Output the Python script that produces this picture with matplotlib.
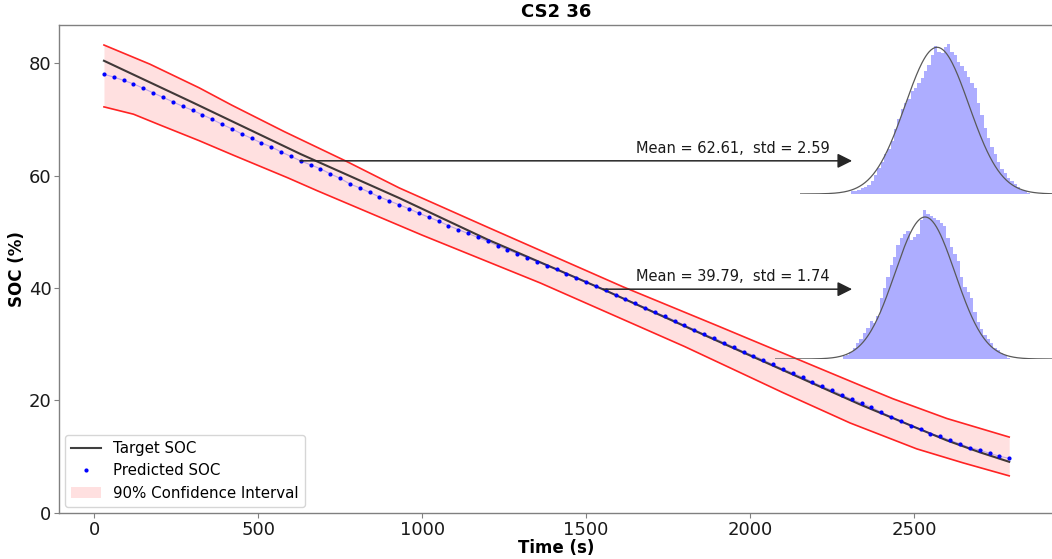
import numpy as np
import matplotlib
matplotlib.use('Agg')
import matplotlib.pyplot as plt

########### Data ##################################

# target / confidence band knots (time in s, SOC in %)
t_target = [30, 300, 630, 930, 1200, 1550, 1900, 2335, 2600, 2700, 2790]
soc_target = [80.4, 73.0, 63.8, 56.0, 48.6, 39.8, 30.6, 19.3, 12.9, 10.8, 9.1]

t_upper = [30, 170, 320, 420, 580, 770, 930, 1200, 1613, 1900, 2200, 2340, 2436, 2600, 2790]
soc_upper = [83.2, 79.8, 75.6, 72.5, 67.8, 62.5, 57.8, 50.8, 40.2, 33.3, 26.0, 22.6, 20.3, 16.8, 13.5]

t_lower = [30, 120, 200, 320, 425, 590, 680, 1000, 1360, 1800, 2100, 2305, 2508, 2650, 2790]
soc_lower = [72.2, 70.9, 69.0, 66.2, 63.6, 59.6, 57.3, 49.4, 40.9, 29.6, 21.4, 16.0, 11.4, 8.9, 6.6]

# predicted SOC, one point every 30 s from 30 s to 2790 s
t_pred = list(range(30, 2791, 30))
soc_pred = [78.0, 77.5, 76.9, 76.3, 75.5, 74.7, 73.9, 73.1, 72.3, 71.6,
            70.8, 70.0, 69.1, 68.3, 67.4, 66.6, 65.8, 65.1, 64.2, 63.4,
            62.6, 61.9, 61.2, 60.3, 59.5, 58.5, 57.8, 57.0, 56.2, 55.5,
            54.8, 54.1, 53.3, 52.6, 51.9, 51.1, 50.4, 49.7, 49.0, 48.3,
            47.5, 46.8, 46.1, 45.4, 44.7, 44.0, 43.3, 42.5, 41.8, 41.1,
            40.3, 39.6, 38.8, 38.0, 37.3, 36.5, 35.7, 35.0, 34.2, 33.4,
            32.6, 31.8, 31.1, 30.3, 29.5, 28.7, 28.0, 27.2, 26.4, 25.6,
            24.9, 24.1, 23.3, 22.5, 21.8, 21.0, 20.2, 19.5, 18.8, 17.9,
            17.1, 16.3, 15.5, 14.9, 14.1, 13.6, 12.9, 12.3, 11.6, 11.2,
            10.6, 10.1, 9.7]

# the two sampled distributions
mean1, std1, t_start1 = 62.61, 2.59, 628
mean2, std2, t_start2 = 39.79, 1.74, 1552
t_head = 2311

# histogram bar heights relative to the gaussian peak
hist1_lo, hist1_w = 55.6, 0.27
hist1 = [0.02, 0.02, 0.03, 0.04, 0.05, 0.06, 0.09, 0.13, 0.18, 0.22,
         0.27, 0.31, 0.36, 0.44, 0.51, 0.58, 0.62, 0.65, 0.70, 0.72,
         0.76, 0.79, 0.84, 0.88, 0.95, 1.01, 0.97, 0.96, 1.00, 1.02,
         0.97, 0.95, 0.90, 0.87, 0.84, 0.80, 0.76, 0.72, 0.62, 0.54,
         0.45, 0.38, 0.32, 0.27, 0.22, 0.17, 0.14, 0.11, 0.09, 0.07,
         0.05, 0.03, 0.02, 0.01]

hist2_lo, hist2_w = 35.02, 0.194
hist2 = [0.02, 0.03, 0.05, 0.08, 0.11, 0.14, 0.18, 0.22, 0.27, 0.25,
         0.30, 0.43, 0.50, 0.58, 0.66, 0.72, 0.80, 0.85, 0.88, 0.90,
         0.84, 0.86, 0.88, 0.98, 1.05, 1.02, 1.01, 0.99, 0.98, 0.96,
         0.94, 0.85, 0.79, 0.74, 0.69, 0.58, 0.51, 0.47, 0.43, 0.33,
         0.26, 0.21, 0.17, 0.14, 0.11, 0.08, 0.06, 0.04, 0.03, 0.01]

########### Main plot ###############

fig = plt.figure(figsize=(10.52, 5.59), dpi=100)
ax = fig.add_axes([0.0561, 0.0823, 0.945, 0.873])

# band on a common time grid so fill_between works
t_band = np.array(t_pred)
up = np.interp(t_band, t_upper, soc_upper)
lo = np.interp(t_band, t_lower, soc_lower)

ax.fill_between(t_band, lo, up, color='red', alpha=0.12, lw=0,
                label='90% Confidence Interval')
ax.plot(t_upper, soc_upper, color='red', lw=1.2, alpha=0.85)
ax.plot(t_lower, soc_lower, color='red', lw=1.2, alpha=0.85)
ax.plot(t_target, soc_target, color='k', alpha=0.75, lw=1.5, label='Target SOC')
ax.plot(t_pred, soc_pred, color='b', alpha=0.25, lw=0.8)
ax.plot(t_pred, soc_pred, 'o', color='b', ms=2.0, label='Predicted SOC')

for m, s, t0 in [(mean1, std1, t_start1), (mean2, std2, t_start2)]:
    ax.annotate('', xy=(t_head, m), xytext=(t0, m),
                arrowprops=dict(arrowstyle='-|>', color='0.15', lw=1.1,
                                mutation_scale=22, shrinkA=0, shrinkB=0))
    ax.text(2244, m + 0.9, 'Mean = %.2f,  std = %.2f' % (m, s),
            ha='right', va='bottom', fontsize=10.5, color='0.1')

ax.set_xlim(-107, 2924)
ax.set_ylim(0, 86.76)
ax.set_xticks([0, 500, 1000, 1500, 2000, 2500])
ax.set_yticks([0, 20, 40, 60, 80])
ax.tick_params(labelsize=13, color='0.5', length=3.5, labelcolor='0.1', pad=2)
for sp in ax.spines.values():
    sp.set_color('0.5')
    sp.set_linewidth(1.0)
ax.set_xlabel('Time (s)', fontsize=12, fontweight='bold', labelpad=0)
ax.set_ylabel('SOC (%)', fontsize=12, fontweight='bold', labelpad=2)
ax.set_title('CS2 36', fontsize=13, fontweight='bold', pad=6)

handles, labels = ax.get_legend_handles_labels()
order = [labels.index('Target SOC'), labels.index('Predicted SOC'),
         labels.index('90% Confidence Interval')]
ax.legend([handles[i] for i in order], [labels[i] for i in order],
          loc='lower left', fontsize=10.8, borderaxespad=0.4,
          handlelength=2.0, markerscale=1.0)

########### Histogram insets ###############

def inset(rect, mean, std, lo_edge, width, heights, k_left, k_right):
    a = fig.add_axes(rect)
    a.patch.set_alpha(0)
    edges = lo_edge + width * np.arange(len(heights))
    a.bar(edges, heights, width=width, align='edge', color='b', alpha=0.32, lw=0)
    xs = np.linspace(mean - k_left * std, mean + k_right * std, 300)
    a.plot(xs, np.exp(-0.5 * ((xs - mean) / std) ** 2), color='0.35', lw=0.9)
    a.set_xlim(mean - k_left * std, mean + k_right * std)
    a.set_ylim(0, 1.05)
    a.axis('off')
    return a

inset([0.7605, 0.653, 0.2605, 0.2755], mean1, std1, hist1_lo, hist1_w, hist1, 4.3, 4.3)
inset([0.7367, 0.3578, 0.2852, 0.2667], mean2, std2, hist2_lo, hist2_w, hist2, 5.0, 5.0)

fig.savefig('out.png', dpi=100)
